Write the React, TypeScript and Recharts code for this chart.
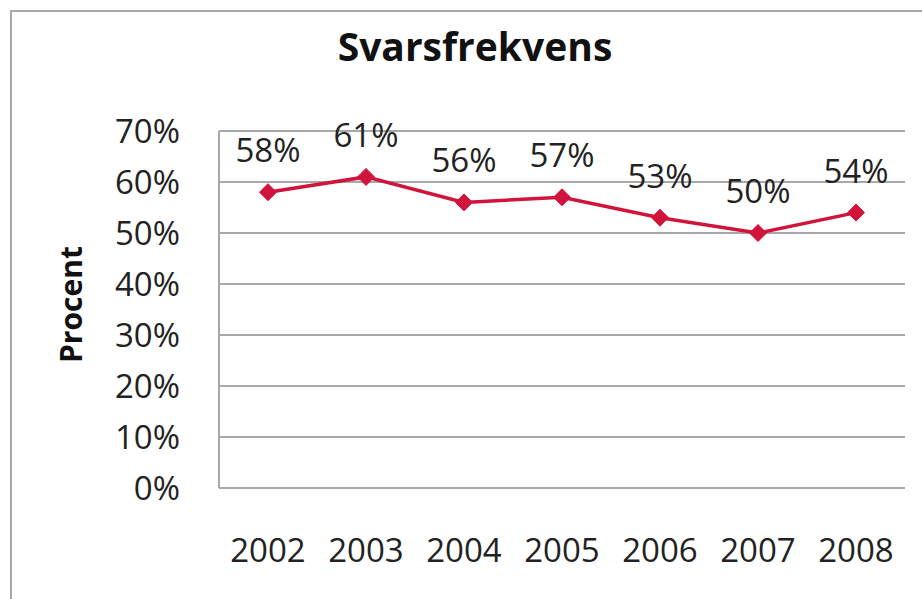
import { LineChart, Line, XAxis, YAxis, CartesianGrid, LabelList } from 'recharts';

const years = ['2002', '2003', '2004', '2005', '2006', '2007', '2008'];
const svarsfrekvens = [58, 61, 56, 57, 53, 50, 54];
const yTicks = [0, 10, 20, 30, 40, 50, 60, 70];

const chartData = years.map((year, i) => ({ year, value: svarsfrekvens[i] }));

const FONT = '"Open Sans", Lato, sans-serif';
const RED = '#d0143c';

const Diamond = (props: any) => {
  const { cx, cy } = props;
  if (cx == null || cy == null) return null;
  const r = 8.5;
  return (
    <polygon
      points={`${cx},${cy - r} ${cx + r},${cy} ${cx},${cy + r} ${cx - r},${cy}`}
      fill={RED}
      stroke={RED}
    />
  );
};

const ProcentLabel = (props: any) => {
  const { viewBox } = props;
  const x = viewBox.x + 58;
  const y = viewBox.y + viewBox.height / 2 - 5;
  return (
    <text
      x={x}
      y={y}
      transform={`rotate(-90, ${x}, ${y})`}
      textAnchor='middle'
      dominantBaseline='central'
      fontFamily={FONT}
      fontWeight={700}
      fontSize={30}
      fill='#111'
    >
      Procent
    </text>
  );
};

export default function App() {
  return (
    <div style={{ position: 'fixed', left: 0, top: 0, width: 922, height: 599, overflow: 'hidden', background: '#fff' }}>
      <div
        style={{
          position: 'absolute',
          left: 10,
          top: 10,
          width: 930,
          height: 610,
          border: '2px solid #a8a8a8',
          boxSizing: 'border-box',
        }}
      >
        <div
          style={{
            position: 'absolute',
            left: 0,
            top: 9,
            width: 926,
            textAlign: 'center',
            fontFamily: FONT,
            fontWeight: 700,
            fontSize: 39,
            lineHeight: '50px',
            color: '#111',
          }}
        >
          Svarsfrekvens
        </div>
        <div style={{ position: 'absolute', left: 0, top: 0, width: 894, height: 580, overflow: 'hidden' }}>
          <LineChart width={893} height={580} data={chartData} margin={{ top: 119, right: 0, left: 0, bottom: 0 }}>
            <CartesianGrid vertical={false} stroke='#a8a8a8' strokeWidth={2} />
            <XAxis
              dataKey='year'
              height={104}
              padding={{ left: 49, right: 49 }}
              tickLine={false}
              axisLine={{ stroke: '#a8a8a8', strokeWidth: 2 }}
              tickMargin={45}
              tick={{ fontFamily: FONT, fontSize: 33, fill: '#222' }}
            />
            <YAxis
              width={207}
              domain={[0, 70]}
              ticks={yTicks}
              interval={0}
              tickFormatter={(v: number) => `${v}%`}
              tickLine={false}
              axisLine={{ stroke: '#a8a8a8', strokeWidth: 2 }}
              tickMargin={33}
              tick={{ fontFamily: FONT, fontSize: 33, fill: '#222' }}
              label={<ProcentLabel />}
            />
            <Line
              type='linear'
              dataKey='value'
              stroke={RED}
              strokeWidth={3.5}
              dot={<Diamond />}
              activeDot={false}
              isAnimationActive={false}
            >
              <LabelList
                dataKey='value'
                position='top'
                offset={30}
                formatter={(v: any) => `${v}%`}
                style={{ fontFamily: FONT, fontSize: 33, fill: '#222' }}
              />
            </Line>
          </LineChart>
        </div>
      </div>
    </div>
  );
}
